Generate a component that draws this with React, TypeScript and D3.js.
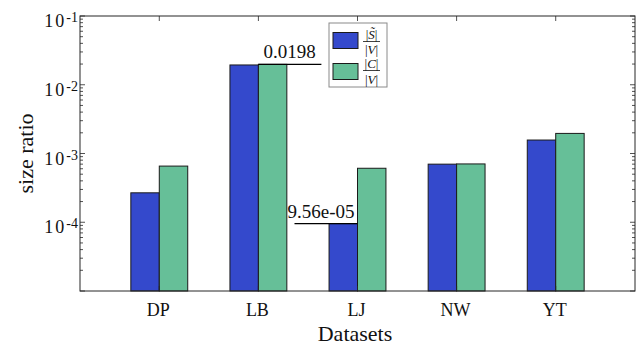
import React from "react";
import * as d3 from "d3";

const categories = ["DP", "LB", "LJ", "NW", "YT"];
const seriesS = [2.68e-4, 0.0194, 9.56e-5, 7.0e-4, 1.57e-3];
const seriesC = [6.56e-4, 0.0198, 6.1e-4, 7.05e-4, 1.96e-3];
const yTickExps = [-4, -3, -2, -1];
const annotations = [
  { cat: 1, series: 1, text: "0.0198", side: "right" },
  { cat: 2, series: 0, text: "9.56e-05", side: "left" },
];

const W = 640, H = 346;
const L = 80, R = 635, T = 16, B = 291;
const blue = "#3449CC";
const green = "#66BF98";
const axisColor = "#262626";
const tf = { fontFamily: "Liberation Serif" };

export default function App() {
  const x = d3.scaleLinear().domain([0.2, 5.8]).range([L, R]);
  const y = d3.scaleLog().domain([1e-5, 1e-1]).range([B, T]);
  const step = x(2) - x(1);
  const bw = step * 0.287;
  const series = [seriesS, seriesC];
  const colors = [blue, green];

  const minorTicks: number[] = [];
  for (let e = -5; e <= -1; e++) {
    for (let m = 1; m <= 9; m++) {
      const v = m * Math.pow(10, e);
      if (v >= 1e-5 && v <= 1e-1 * 1.0001) minorTicks.push(v);
    }
  }

  return (
    <svg width={W} height={H} style={{ position: "absolute", left: 0, top: 0, background: "#fff" }}>
      {categories.map((c, i) =>
        series.map((s, k) => {
          const cx = x(i + 1);
          const x0 = k === 0 ? cx - bw : cx;
          const yt = y(s[i]);
          return (
            <rect key={c + k} x={x0} y={yt} width={bw} height={B - yt}
              fill={colors[k]} stroke="#1a1a1a" strokeWidth={1} />
          );
        })
      )}
      <rect x={L} y={T} width={R - L} height={B - T} fill="none" stroke={axisColor} strokeWidth={1} />
      {minorTicks.map((v, i) => {
        const lg = Math.log10(v);
        const major = Math.abs(lg - Math.round(lg)) < 1e-9;
        const len = major ? 5 : 3;
        const yy = y(v);
        return (
          <g key={"t" + i}>
            <line x1={L} x2={L + len} y1={yy} y2={yy} stroke={axisColor} strokeWidth={0.8} />
            <line x1={R} x2={R - len} y1={yy} y2={yy} stroke={axisColor} strokeWidth={0.8} />
          </g>
        );
      })}
      {categories.map((c, i) => (
        <g key={"xt" + c}>
          <line x1={x(i + 1)} x2={x(i + 1)} y1={T} y2={T + 5} stroke={axisColor} strokeWidth={0.8} />
          <line x1={x(i + 1)} x2={x(i + 1)} y1={B} y2={B - 5} stroke={axisColor} strokeWidth={0.8} />
          <text x={x(i + 1) - 1} y={316} textAnchor="middle" fontSize={18} fill="#111" style={tf}>{c}</text>
        </g>
      ))}
      {yTickExps.map((e) => (
        <text key={"yl" + e} x={78} y={y(Math.pow(10, e)) + 11} textAnchor="end" fontSize={18} fill="#111" style={tf} letterSpacing={2}>
          10<tspan dy={-5} fontSize={14} letterSpacing={0}>{"-" + Math.abs(e)}</tspan>
        </text>
      ))}
      <text x={355} y={341} textAnchor="middle" fontSize={22} fill="#111" style={tf}>Datasets</text>
      <text transform={`translate(33,${(T + B) / 2}) rotate(-90)`} textAnchor="middle" fontSize={22} fill="#111" style={tf}>size ratio</text>
      {annotations.map((a, j) => {
        const cx = x(a.cat + 1);
        const v = series[a.series][a.cat];
        const yy = y(v);
        const len = 63;
        const x1 = a.side === "right" ? cx : cx - len;
        const x2 = x1 + len;
        return (
          <g key={"an" + j}>
            <line x1={x1} x2={x2} y1={yy} y2={yy} stroke="#000" strokeWidth={1.2} />
            <text x={a.side === "right" ? x1 + 5 : x1 - 7} y={yy - 6} fontSize={19} fill="#111" style={tf}>{a.text}</text>
          </g>
        );
      })}
      <g>
        <rect x={329} y={23} width={58} height={64} fill="#fff" stroke="#8a8a8a" strokeWidth={1} />
        <rect x={333} y={32.5} width={25} height={16} fill={blue} stroke="#1a1a1a" strokeWidth={1} />
        <rect x={333} y={63.5} width={25} height={16} fill={green} stroke="#1a1a1a" strokeWidth={1} />
        <text x={371.5} y={38.5} textAnchor="middle" fontSize={13} fill="#111" style={tf}>
          |<tspan fontStyle="italic">S̃</tspan>|
        </text>
        <line x1={363} x2={380} y1={41.5} y2={41.5} stroke="#111" strokeWidth={0.8} />
        <text x={371.5} y={54} textAnchor="middle" fontSize={13} fill="#111" style={tf}>
          |<tspan fontStyle="italic">V</tspan>|
        </text>
        <text x={371.5} y={68} textAnchor="middle" fontSize={13} fill="#111" style={tf}>
          |<tspan fontStyle="italic">C</tspan>|
        </text>
        <line x1={363} x2={380} y1={70.5} y2={70.5} stroke="#111" strokeWidth={0.8} />
        <text x={371.5} y={83.5} textAnchor="middle" fontSize={13} fill="#111" style={tf}>
          |<tspan fontStyle="italic">V</tspan>|
        </text>
      </g>
    </svg>
  );
}
